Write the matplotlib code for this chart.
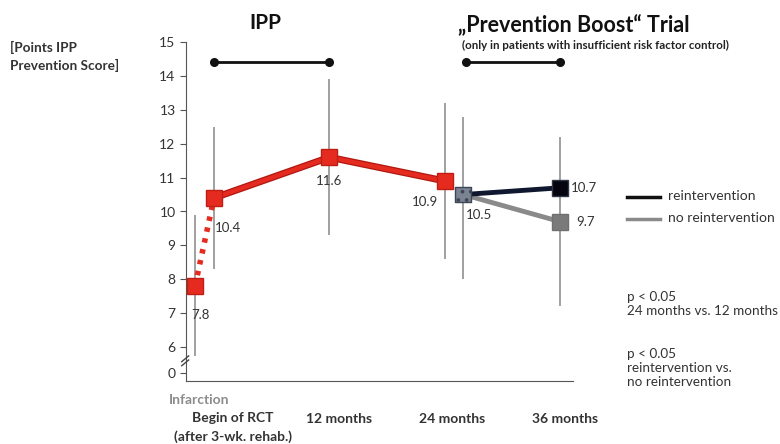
import numpy as np
import matplotlib
matplotlib.use("Agg")
import matplotlib.pyplot as plt
import matplotlib.patheffects as pe

plt.rcParams['font.family'] = ['Lato', 'DejaVu Sans']
plt.rcParams['hatch.linewidth'] = 1.5

# ── data ─────────────────────────────────────────────
categories = ["Begin of RCT\n(after 3-wk. rehab.)", "12 months", "24 months", "36 months"]

# infarction (before RCT)
infarct_mean = 7.8
infarct_lo, infarct_hi = 5.75, 9.9

# IPP phase: begin, 12 months, 24 months
ipp_mean = [10.4, 11.6, 10.9]
ipp_lo = [8.3, 9.3, 8.6]
ipp_hi = [12.5, 13.9, 13.2]

# Prevention Boost: start (24 months) -> 36 months
boost_start = 10.5
boost_start_lo, boost_start_hi = 8.0, 12.8
reint_36 = 10.7
noreint_36 = 9.7
boost_36_lo, boost_36_hi = 7.2, 12.2

ytick_vals = [0, 6, 7, 8, 9, 10, 11, 12, 13, 14, 15]

RED = "#e52b1f"
DARK = "#101830"
GREY = "#8a8a8a"
BAR = "#a0a0a0"
TXT = "#333333"

fig = plt.figure(figsize=(7.8, 4.44), dpi=100)
W, H = 780, 444
ax = fig.add_axes([186 / W, 1 - 381 / H, (573 - 186) / W, (381 - 42) / H])
ax.set_xlim(-0.243, 3.11)
ax.set_ylim(5.0, 15.0)

xs = np.arange(len(categories))
x_inf = -0.165
x_boost = 2.16

# error bars (vertical grey lines)
ax.vlines([x_inf], infarct_lo, infarct_hi, color=BAR, lw=1.4, zorder=1)
ax.vlines(xs[:3], ipp_lo, ipp_hi, color=BAR, lw=1.4, zorder=1)
ax.vlines([x_boost], boost_start_lo, boost_start_hi, color=BAR, lw=1.4, zorder=1)
ax.vlines([xs[3]], boost_36_lo, boost_36_hi, color=BAR, lw=1.4, zorder=1)

shadow = [pe.Stroke(linewidth=5, foreground="#b01810"), pe.Normal()]

# dotted infarction -> begin
ax.plot([x_inf, xs[0]], [infarct_mean, ipp_mean[0]], color=RED, lw=4,
        ls=(0, (0.8, 1.2)), zorder=2)
# solid IPP line
ax.plot(xs[:3], ipp_mean, color=RED, lw=3.2, zorder=3, path_effects=shadow)
ax.plot([x_inf] + list(xs[:3]), [infarct_mean] + ipp_mean, ls="none",
        marker="s", ms=11, mfc=RED, mec="#c01e14", zorder=4)

# boost lines
ax.plot([x_boost, xs[3]], [boost_start, noreint_36], color=GREY, lw=3.5, zorder=3)
ax.plot([x_boost, xs[3]], [boost_start, reint_36], color=DARK, lw=3.5, zorder=3)
ax.scatter([x_boost], [boost_start], marker="s", s=130, facecolor="#7a8492",
           edgecolor="#3e4656", hatch="..", lw=1, zorder=5)
ax.plot([xs[3]], [reint_36], marker="s", ms=11, mfc="#050510", mec="#303848",
        ls="none", zorder=5)
ax.plot([xs[3]], [noreint_36], marker="s", ms=11, mfc="#7a7a7a", mec="#707070",
        ls="none", zorder=5)

# value labels
lab_kw = dict(fontsize=9.5, color=TXT, textcoords="offset points", va="center")
ax.annotate(f"{infarct_mean}", (x_inf, infarct_mean), xytext=(4, -21), ha="center", **lab_kw)
ax.annotate(f"{ipp_mean[0]}", (xs[0], ipp_mean[0]), xytext=(10, -22), ha="center", **lab_kw)
ax.annotate(f"{ipp_mean[1]}", (xs[1], ipp_mean[1]), xytext=(0, -17), ha="center", **lab_kw)
ax.annotate(f"{ipp_mean[2]}", (xs[2], ipp_mean[2]), xytext=(-14, -15), ha="center", **lab_kw)
ax.annotate(f"{boost_start}", (x_boost, boost_start), xytext=(11, -15), ha="center", **lab_kw)
ax.annotate(f"{reint_36}", (xs[3], reint_36), xytext=(17, 0), ha="center", **lab_kw)
ax.annotate(f"{noreint_36}", (xs[3], noreint_36), xytext=(18, 0), ha="center", **lab_kw)

# significance brackets
ax.plot([xs[0], xs[1]], [14.4, 14.4], color="#111111", lw=2, marker="o", ms=5.5,
        clip_on=False)
ax.plot([2.18, xs[3]], [14.4, 14.4], color="#111111", lw=2, marker="o", ms=5.5,
        clip_on=False)

# axes styling
for s in ["top", "right"]:
    ax.spines[s].set_visible(False)
ax.spines["left"].set_color("#555555")
ax.spines["bottom"].set_color("#555555")
ax.set_xticks([])
ypos = [5.24] + ytick_vals[1:]
ax.set_yticks(ypos)
ax.set_yticklabels([str(v) for v in ytick_vals], fontsize=10, color=TXT)
ax.tick_params(axis="y", length=4, color="#555555")

# axis break marks
for dy in (0.0, 0.12):
    ax.plot([-0.28, -0.22], [5.45 + dy, 5.62 + dy], color="#444444", lw=1,
            clip_on=False, zorder=6)

# x category labels
fig.text(233 / W, 1 - 418 / H, "Begin of RCT", ha="center", va="center",
         fontsize=10, fontweight="bold", color=TXT)
fig.text(233 / W, 1 - 437 / H, "(after 3-wk. rehab.)", ha="center", va="center",
         fontsize=10, fontweight="bold", color=TXT)
for lbl, xc in zip(categories[1:], [339, 452, 565]):
    fig.text(xc / W, 1 - 419 / H, lbl, ha="center", va="center",
             fontsize=10, fontweight="bold", color=TXT)
fig.text(169 / W, 1 - 400 / H, "Infarction", ha="left", va="center",
         fontsize=10, fontweight="bold", color="#8c8c8c")

# titles
fig.text(265 / W, 1 - 23 / H, "IPP", ha="center", va="center",
         fontsize=15, fontweight="bold", color="#111111")
fig.text(458 / W, 1 - 25 / H, "\u201ePrevention Boost\u201c Trial", ha="left", va="center",
         fontsize=15.5, fontweight="bold", color="#111111")
fig.text(462 / W, 1 - 45 / H, "(only in patients with insufficient risk factor control)",
         ha="left", va="center", fontsize=8.3, fontweight="bold", color="#222222")

# y label
fig.text(10 / W, 1 - 56 / H, "[Points IPP\nPrevention Score]", ha="left", va="center",
         fontsize=9.8, fontweight="bold", color="#333333", linespacing=1.45)

# legend
fig.lines.append(plt.Line2D([627 / W, 660 / W], [1 - 197 / H] * 2, color="#111111",
                            lw=2.5, transform=fig.transFigure))
fig.lines.append(plt.Line2D([627 / W, 660 / W], [1 - 219 / H] * 2, color=GREY,
                            lw=2.5, transform=fig.transFigure))
fig.text(668 / W, 1 - 196 / H, "reintervention", ha="left", va="center",
         fontsize=10, color=TXT)
fig.text(668 / W, 1 - 218 / H, "no reintervention", ha="left", va="center",
         fontsize=10, color=TXT)

# p-value notes
fig.text(627 / W, 1 - 304 / H, "p < 0.05\n24 months vs. 12 months", ha="left",
         va="center", fontsize=9.7, color=TXT, linespacing=1.25)
fig.text(627 / W, 1 - 368 / H, "p < 0.05\nreintervention vs.\nno reintervention",
         ha="left", va="center", fontsize=9.7, color=TXT, linespacing=1.25)

fig.savefig("out.png", dpi=100)
plt.close(fig)
